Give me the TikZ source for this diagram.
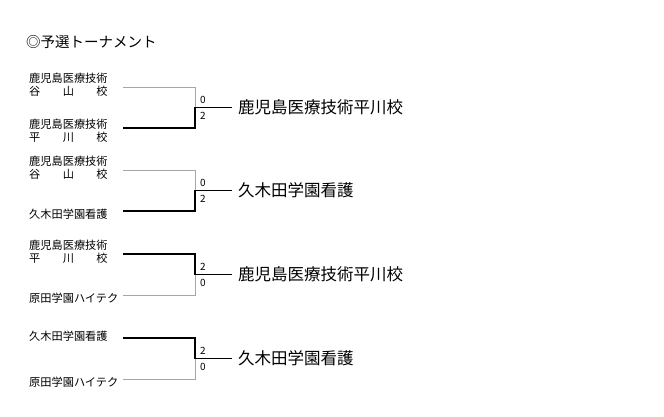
\documentclass[tikz,border=0pt]{standalone}
\usepackage{calc}
\usepackage{fontspec}
\setmainfont{Noto Sans CJK JP}
\begin{document}
\newcommand{\spreadname}[1]{\makebox[\widthof{鹿児島医療技術}][s]{#1}}
\begin{tikzpicture}[x=1pt,y=-1pt,
  team/.style={anchor=west, font=\fontsize{11.2}{13}\selectfont, align=left, inner sep=0pt},
  score/.style={anchor=west, font=\fontsize{10}{11}\selectfont, inner sep=0pt},
  champ/.style={anchor=west, font=\fontsize{16.5}{18}\selectfont, inner sep=0pt},
  win/.style={black, line width=1.3pt},
  lose/.style={gray!70, line width=0.6pt}]
  \useasboundingbox (0,0) rectangle (664,416);
  \node[anchor=west, font=\fontsize{14.5}{16}\selectfont, inner sep=0pt] (title) at (26,42) {◎予選トーナメント};

  % each match: top y, bottom y, top wins?, top name, bottom name, top score, bottom score, winner
  \foreach \ya/\yb/\tw/\na/\nb/\sa/\sb/\champname in {
      87/128/0/{鹿児島医療技術\\\spreadname{谷\hfill 山\hfill 校}}/{鹿児島医療技術\\\spreadname{平\hfill 川\hfill 校}}/0/2/鹿児島医療技術平川校,
      170/211/0/{鹿児島医療技術\\\spreadname{谷\hfill 山\hfill 校}}/{久木田学園看護}/0/2/久木田学園看護,
      254/295/1/{鹿児島医療技術\\\spreadname{平\hfill 川\hfill 校}}/{原田学園ハイテク}/2/0/鹿児島医療技術平川校,
      338/379/1/{久木田学園看護}/{原田学園ハイテク}/2/0/久木田学園看護} {
    \pgfmathsetmacro{\ym}{(\ya+\yb)/2}
    \coordinate (ta) at (123,\ya);
    \coordinate (tb) at (123,\yb);
    \coordinate (ca) at (195,\ya);
    \coordinate (cb) at (195,\yb);
    \coordinate (cm) at (195,\ym);
    \coordinate (end) at (232,\ym);
    \node[team] (na) at (29,\ya-2) {\na};
    \node[team] (nb) at (29,\yb+3) {\nb};
    \ifnum\tw=1
      \draw[lose] (tb) -- (cb) -- (cm);
      \draw[win] (ta) -- (ca) -- (cm) -- (end);
    \else
      \draw[lose] (ta) -- (ca) -- (cm);
      \draw[win] (tb) -- (cb) -- (cm) -- (end);
    \fi
    \node[score] (sa) at (200,\ym-8) {\sa};
    \node[score] (sb) at (200,\ym+8) {\sb};
    \node[champ] (w) at (238,\ym) {\champname};
  }
\end{tikzpicture}
\end{document}
